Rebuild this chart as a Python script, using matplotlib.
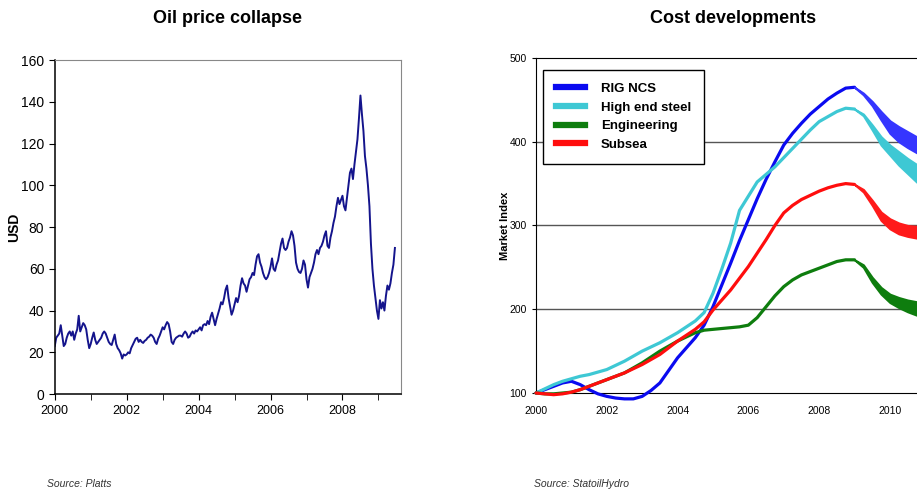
import numpy as np
import matplotlib
matplotlib.use('Agg')
import matplotlib.pyplot as plt
from matplotlib.ticker import MultipleLocator

plt.rcParams['font.family'] = ['Liberation Sans', 'DejaVu Sans']

# Oil price (USD), two readings per month from Jan 2000
oil_2000 = [23, 27, 28, 29, 33, 28, 23, 24, 27, 29, 30, 28,
            30, 26, 29, 31, 37.5, 30, 32, 34, 33, 31, 26, 22]
oil_2001 = [24, 27, 29.5, 26, 24, 25, 26, 27, 29, 30, 29, 27,
            25, 24, 23.5, 26, 28.5, 24, 22, 21, 19.5, 17, 19, 18.5]
oil_2002 = [19, 20, 19.5, 22, 23.5, 25, 26.5, 27, 25, 26, 25, 24.5,
            25.5, 26, 27, 27.5, 28.5, 28, 27, 25, 24, 26.5, 28, 30]
oil_2003 = [32, 31, 33, 34.5, 33.5, 30, 25, 24, 26, 27, 27.5, 28,
            28, 27.5, 29, 30, 29, 27, 27.5, 29, 30, 29, 30.5, 30]
oil_2004 = [31, 32, 30.5, 33, 33.5, 33, 35, 33.5, 37, 39, 36, 33,
            36, 38.5, 41, 44, 43, 46, 50, 52, 46, 42, 38, 40]
oil_2005 = [43, 46, 44, 47, 52, 55.5, 53, 52, 49, 52, 55, 56,
            58, 57, 62, 66, 67, 63, 61, 58, 56, 55, 56, 58]
oil_2006 = [61, 65, 60, 59, 62, 64, 68, 72, 74.5, 70, 69, 70,
            73, 75, 78, 76, 71, 63, 60, 58.5, 58, 60, 64, 62]
oil_2007 = [55, 51, 56, 58, 60, 63, 67, 69, 67, 70, 71, 73,
            76, 78, 71, 70, 75, 78, 82, 85, 90, 94, 91, 93]
oil_2008 = [95, 90, 88, 94, 100, 106, 108, 103, 110, 116, 122, 132,
            143, 134, 126, 114, 108, 100, 90, 72, 60, 52, 46, 40]
oil_2009 = [36, 45, 41, 44, 40, 47, 52, 50, 53, 58, 62, 70]

oil = (oil_2000 + oil_2001 + oil_2002 + oil_2003 + oil_2004 + oil_2005
       + oil_2006 + oil_2007 + oil_2008 + oil_2009)
oil_years = 2000 + np.arange(len(oil)) / 24

# Cost indices, quarterly 2000-2009
cost_years = 2000 + np.arange(37) * 0.25
rig_ncs = [100, 104, 108, 112, 114, 110, 104, 99, 96, 94, 93, 93,
           96, 103, 112, 127, 142, 154, 166, 181, 203, 229, 255, 282,
           307, 332, 355, 376, 396, 410, 422, 433, 442, 451, 458, 464, 465]
steel = [100, 105, 110, 114, 117, 120, 122, 125, 128, 133, 138, 144,
         150, 155, 160, 166, 172, 179, 186, 196, 219, 248, 279, 318,
         335, 352, 361, 370, 381, 392, 403, 414, 424, 430, 436, 440, 439]
engineering = [100, 99, 99, 100, 101, 104, 108, 112, 116, 120, 124, 130,
               136, 143, 150, 156, 162, 167, 172, 175, 176, 177, 178, 179,
               181, 190, 203, 216, 227, 235, 241, 245, 249, 253, 257, 259, 259]
subsea = [100, 99, 98, 99, 101, 104, 108, 112, 116, 120, 124, 129,
          134, 140, 146, 154, 162, 169, 176, 185, 199, 211, 223, 237,
          251, 267, 283, 300, 315, 324, 331, 336, 341, 345, 348, 350, 349]

# Forecast bands (upper, lower), quarterly 2009-2011
fc_years = 2009 + np.arange(9) * 0.25
rig_hi = [465, 458, 448, 436, 425, 418, 412, 406, 400]
rig_lo = [465, 456, 443, 426, 410, 400, 393, 387, 382]
steel_hi = [439, 433, 420, 406, 396, 388, 380, 373, 366]
steel_lo = [439, 431, 414, 396, 384, 372, 362, 352, 344]
eng_hi = [259, 253, 238, 226, 218, 214, 211, 209, 207]
eng_lo = [259, 250, 232, 218, 208, 202, 197, 193, 190]
sub_hi = [349, 343, 330, 316, 308, 303, 300, 299, 298]
sub_lo = [349, 340, 324, 306, 296, 290, 287, 285, 284]

fig = plt.figure(figsize=(9.17, 4.92), dpi=100)

# --- Oil price chart ---
ax1 = fig.add_axes([0.0597, 0.199, 0.3773, 0.679])
ax1.plot(oil_years, oil, color='#14148c', lw=1.4)
ax1.set_xlim(2000, 2009.62)
ax1.set_ylim(0, 160)
ax1.xaxis.set_major_locator(MultipleLocator(2))
ax1.xaxis.set_minor_locator(MultipleLocator(1))
ax1.yaxis.set_major_locator(MultipleLocator(20))
ax1.tick_params(axis='y', labelsize=10, length=4, direction='out')
ax1.tick_params(axis='x', which='both', labelsize=9, length=4, direction='out')
ax1.set_ylabel('USD', fontsize=10, fontweight='bold')
ax1.yaxis.set_label_coords(-0.097, 0.5)
for s in ['top', 'right']:
    ax1.spines[s].set_color('#888888')
for s in ['left', 'bottom']:
    ax1.spines[s].set_color('black')
    ax1.spines[s].set_linewidth(1.1)

# --- Cost chart ---
ax2 = fig.add_axes([0.5845, 0.2012, 0.4246, 0.681])
series = [
    ('RIG NCS', rig_ncs, rig_hi, rig_lo, '#0a0af0', '#3535ff', 2),
    ('High end steel', steel, steel_hi, steel_lo, '#3ec8d4', '#3ec8d4', 3),
    ('Engineering', engineering, eng_hi, eng_lo, '#0e7d0e', '#0e7d0e', 4),
    ('Subsea', subsea, sub_hi, sub_lo, '#ff0d0d', '#ff1a1a', 5),
]
for name, vals, hi, lo, col, band, z in series:
    ax2.plot(cost_years, vals, color=col, lw=2.3, zorder=z,
             solid_capstyle='round', clip_on=False)
    ax2.fill_between(fc_years, lo, hi, color=band, lw=1.5,
                     edgecolor=band, zorder=z)

ax2.set_xlim(2000, 2011)
ax2.set_ylim(100, 500)
ax2.set_xticks([2000, 2002, 2004, 2006, 2008, 2010])
ax2.set_yticks([100, 200, 300, 400, 500])
ax2.tick_params(axis='y', labelsize=7.5, length=3, direction='out')
ax2.tick_params(axis='x', labelsize=7.5, length=0, pad=9)
for g in [200, 300, 400]:
    ax2.axhline(g, color='#555555', lw=1, zorder=1)
ax2.set_ylabel('Market Index', fontsize=8, fontweight='bold')
ax2.yaxis.set_label_coords(-0.066, 0.5)
for s in ax2.spines.values():
    s.set_color('black')
    s.set_zorder(1.5)

leg_lines = [plt.Line2D([], [], color=c, lw=4.5) for _, _, _, _, c, _, _ in series]
leg = ax2.legend(leg_lines, [s[0] for s in series], loc='upper left',
                 bbox_to_anchor=(0.018, 0.965), fancybox=False,
                 edgecolor='black', framealpha=1, borderpad=1.0,
                 borderaxespad=0, handlelength=2.2, handletextpad=1.2,
                 labelspacing=0.48, prop={'weight': 'bold', 'size': 9.5})
leg.get_frame().set_linewidth(1)
leg.set_zorder(10)

# Titles and sources
fig.text(0.248, 0.963, 'Oil price collapse', ha='center', va='center',
         fontsize=13, fontweight='bold')
fig.text(0.799, 0.963, 'Cost developments', ha='center', va='center',
         fontsize=13, fontweight='bold')
fig.text(0.051, 0.016, 'Source: Platts', fontsize=7.5, style='italic',
         color='#333333', va='center')
fig.text(0.582, 0.016, 'Source: StatoilHydro', fontsize=7.5, style='italic',
         color='#333333', va='center')

fig.savefig('out.png', dpi=100)
